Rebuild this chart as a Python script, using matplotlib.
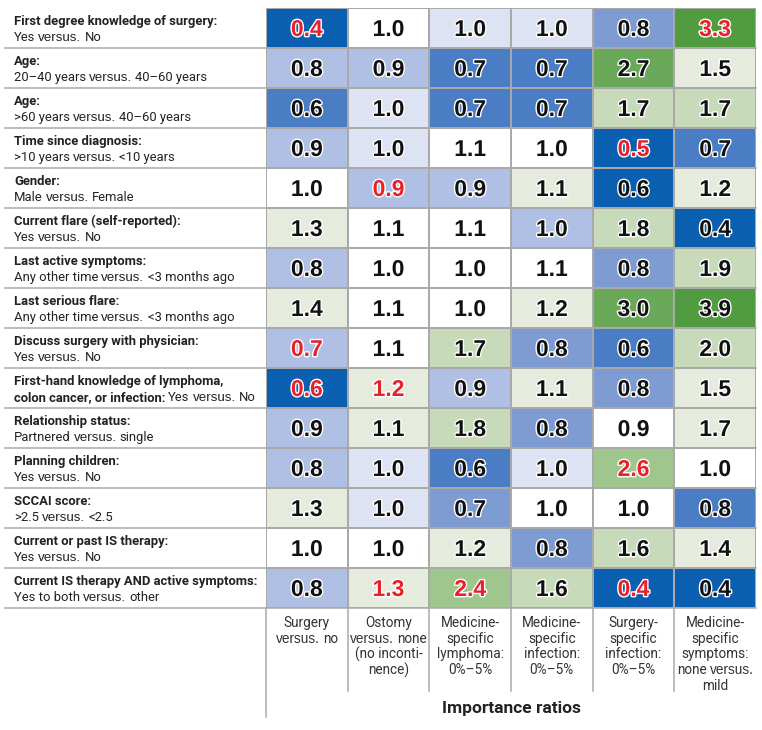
import matplotlib
matplotlib.use("Agg")
import matplotlib.pyplot as plt
import numpy as np
from matplotlib.colors import ListedColormap, BoundaryNorm
from matplotlib import patheffects as pe
from matplotlib.font_manager import FontProperties, findfont
import matplotlib.transforms as mtransforms

# ---------------- data ----------------
row_titles = [
    "First degree knowledge of surgery:",
    "Age:",
    "Age:",
    "Time since diagnosis:",
    "Gender:",
    "Current flare (self-reported):",
    "Last active symptoms:",
    "Last serious flare:",
    "Discuss surgery with physician:",
    "First-hand knowledge of lymphoma,\ncolon cancer, or infection:",
    "Relationship status:",
    "Planning children:",
    "SCCAI score:",
    "Current or past IS therapy:",
    "Current IS therapy AND active symptoms:",
]
row_details = [
    "Yes versus. No",
    "20–40 years versus. 40–60 years",
    ">60 years versus. 40–60 years",
    ">10 years versus. <10 years",
    "Male versus. Female",
    "Yes versus. No",
    "Any other time versus. <3 months ago",
    "Any other time versus. <3 months ago",
    "Yes versus. No",
    "Yes versus. No",
    "Partnered versus. single",
    "Yes versus. No",
    ">2.5 versus. <2.5",
    "Yes versus. No",
    "Yes to both versus. other",
]
col_labels = [
    "Surgery\nversus. no",
    "Ostomy\nversus. none\n(no inconti-\nnence)",
    "Medicine-\nspecific\nlymphoma:\n0%–5%",
    "Medicine-\nspecific\ninfection:\n0%–5%",
    "Surgery-\nspecific\ninfection:\n0%–5%",
    "Medicine-\nspecific\nsymptoms:\nnone versus.\nmild",
]
axis_title = "Importance ratios"

values = [
    [0.4, 1.0, 1.0, 1.0, 0.8, 3.3],
    [0.8, 0.9, 0.7, 0.7, 2.7, 1.5],
    [0.6, 1.0, 0.7, 0.7, 1.7, 1.7],
    [0.9, 1.0, 1.1, 1.0, 0.5, 0.7],
    [1.0, 0.9, 0.9, 1.1, 0.6, 1.2],
    [1.3, 1.1, 1.1, 1.0, 1.8, 0.4],
    [0.8, 1.0, 1.0, 1.1, 0.8, 1.9],
    [1.4, 1.1, 1.0, 1.2, 3.0, 3.9],
    [0.7, 1.1, 1.7, 0.8, 0.6, 2.0],
    [0.6, 1.2, 0.9, 1.1, 0.8, 1.5],
    [0.9, 1.1, 1.8, 0.8, 0.9, 1.7],
    [0.8, 1.0, 0.6, 1.0, 2.6, 1.0],
    [1.3, 1.0, 0.7, 1.0, 1.0, 0.8],
    [1.0, 1.0, 1.2, 0.8, 1.6, 1.4],
    [0.8, 1.3, 2.4, 1.6, 0.4, 0.4],
]
# shading level of each cell as printed (-5 dark blue ... 0 white ... +5 dark green)
shade = [
    [-5, 0, -1, -1, -3, 5],
    [-2, -2, -4, -4, 4, 1],
    [-4, -1, -4, -4, 2, 2],
    [-2, -1, 0, 0, -5, -4],
    [0, -2, -2, 1, -5, 1],
    [1, 0, 0, -2, 2, -5],
    [-2, 0, 0, 0, -3, 2],
    [1, 0, 0, 1, 4, 5],
    [-2, 0, 2, -3, -4, 2],
    [-5, 1, -2, 1, -3, 1],
    [-2, 1, 2, -3, 0, 1],
    [-2, -1, -4, -1, 3, 0],
    [1, -1, -3, 0, 0, -4],
    [0, 0, 1, -3, 2, 1],
    [-2, 1, 3, 2, -5, -5],
]
# 1 = value printed in red
highlight = [
    [1, 0, 0, 0, 0, 1],
    [0, 0, 0, 0, 0, 0],
    [0, 0, 0, 0, 0, 0],
    [0, 0, 0, 0, 1, 0],
    [0, 1, 0, 0, 0, 0],
    [0, 0, 0, 0, 0, 0],
    [0, 0, 0, 0, 0, 0],
    [0, 0, 0, 0, 0, 0],
    [1, 0, 0, 0, 0, 0],
    [1, 1, 0, 0, 0, 0],
    [0, 0, 0, 0, 0, 0],
    [0, 0, 0, 0, 1, 0],
    [0, 0, 0, 0, 0, 0],
    [0, 0, 0, 0, 0, 0],
    [0, 1, 1, 0, 1, 0],
]

# ---------------- styling ----------------
shade_colors = ["#0b5fb0", "#4b7dc5", "#7e9bd2", "#b0c0e5", "#dde3f3", "#ffffff",
                "#e5ecde", "#c7dbbb", "#9fc68c", "#6aa85a", "#519c40"]
cmap = ListedColormap(shade_colors)
norm = BoundaryNorm(np.arange(-5.5, 6.5, 1), cmap.N)
GRID = "#a9a9a9"
RED = "#e8202a"


def has_font(name):
    try:
        findfont(FontProperties(family=name), fallback_to_default=False)
        return True
    except Exception:
        return False


NARROW = "Roboto" if has_font("Roboto") else "Liberation Sans"
WIDE = "Liberation Sans"

W, H = 762, 730
fig = plt.figure(figsize=(W / 100, H / 100), dpi=100)
px = mtransforms.Affine2D().scale(1 / W, -1 / H).translate(0, 1) + fig.transFigure

GL, GR, GT, GB = 266, 756, 8, 608
nrows, ncols = len(values), len(values[0])
rh = (GB - GT) / nrows
cw = (GR - GL) / ncols

ax = fig.add_axes([GL / W, 1 - GB / H, (GR - GL) / W, (GB - GT) / H])
ax.pcolormesh(np.arange(ncols + 1), np.arange(nrows + 1), np.array(shade),
              cmap=cmap, norm=norm, edgecolors=GRID, linewidth=1.1)
ax.set_xlim(0, ncols)
ax.set_ylim(nrows, 0)
ax.axis("off")

for i in range(nrows):
    for j in range(ncols):
        ax.text(j + 0.5, i + 0.5 + 0.2, f"{values[i][j]:.1f}", ha="center", va="baseline",
                fontsize=16.5, fontweight="bold", family=WIDE,
                color=RED if highlight[i][j] else "#111111",
                path_effects=[pe.withStroke(linewidth=2.0, foreground="white")])

renderer = fig.canvas.get_renderer()


def seg_width(text, fp):
    w, h, d = renderer.get_text_width_height_descent(text, fp, ismath=False)
    return w


def split_versus(text, base_fp, wide_fp):
    segs = []
    parts = text.split("versus.")
    for k, p in enumerate(parts):
        if p.strip():
            segs.append((p.strip(), base_fp))
        if k < len(parts) - 1:
            segs.append(("versus.", wide_fp))
    return segs


def draw_segments(x, y, segs, align="left", gap=3.0, color="#222222"):
    widths = [seg_width(t, fp) for t, fp in segs]
    total = sum(widths) + gap * (len(segs) - 1)
    cx = x - total / 2 if align == "center" else x
    for (t, fp), w in zip(segs, widths):
        fig.text(cx, y, t, transform=px, fontproperties=fp, color=color,
                 ha="left", va="baseline")
        cx += w + gap


title_fp = FontProperties(family=NARROW, weight="bold", size=9.4)
detail_fp = FontProperties(family=NARROW, size=9.4)
detail_wide = FontProperties(family=WIDE, size=9.6)
head_fp = FontProperties(family=NARROW, size=9.8)
head_wide = FontProperties(family=WIDE, size=9.8)

LX = 14
for i in range(nrows):
    top = GT + i * rh
    tlines = row_titles[i].split("\n")
    for k, tl in enumerate(tlines):
        y = top + 17 + 16 * k
        if k < len(tlines) - 1:
            draw_segments(LX, y, [(tl, title_fp)])
        else:
            segs = [(tl, title_fp)]
            if len(tlines) > 1:
                segs += split_versus(row_details[i], detail_fp, detail_wide)
                draw_segments(LX, y, segs)
            else:
                draw_segments(LX, y, segs)
                draw_segments(LX, top + 33, split_versus(row_details[i], detail_fp, detail_wide))

# horizontal row separators (spanning label column and grid)
for i in range(1, nrows + 1):
    y = GT + i * rh
    fig.add_artist(plt.Line2D([5, GR], [y, y], transform=px, color=GRID, lw=1.1))

# column separators below the grid
for j in range(1, ncols):
    x = GL + j * cw
    fig.add_artist(plt.Line2D([x, x], [GB, 691], transform=px, color=GRID, lw=1.1))
fig.add_artist(plt.Line2D([GL, GL], [GB, 717], transform=px, color=GRID, lw=1.1))

# column labels
for j in range(ncols):
    xc = GL + (j + 0.5) * cw
    for k, line in enumerate(col_labels[j].split("\n")):
        draw_segments(xc, 627 + 15.7 * k, split_versus(line, head_fp, head_wide),
                      align="center", color="#333333")

fig.text((GL + GR) / 2, 713, axis_title, transform=px, ha="center", va="baseline",
         fontproperties=FontProperties(family=NARROW, weight="bold", size=12.5),
         color="#222222")

fig.savefig("out.png", dpi=100, facecolor="white")
